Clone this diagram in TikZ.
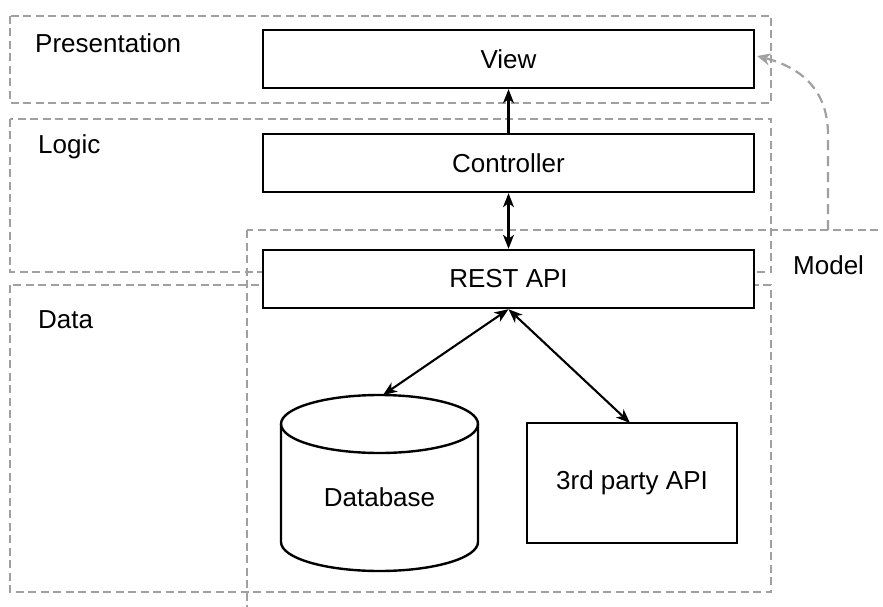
\documentclass[tikz,border=0pt]{standalone}
\usepackage{fontspec}
\setmainfont{Liberation Sans}
\usetikzlibrary{arrows.meta}
\definecolor{dashgray}{RGB}{160,160,160}
\tikzset{
  layer/.style={draw=dashgray, line width=1.5pt, dash pattern=on 8pt off 4.5pt},
  txt/.style={font=\fontsize{26}{30}\selectfont},
  box/.style={draw=black, line width=2.4pt, fill=white, minimum width=491pt, minimum height=58pt, inner sep=0pt, txt},
  lbl/.style={anchor=west, inner sep=0pt, txt},
  tip/.style={},
  conn/.style={line width=2.1pt, -{Stealth[length=14pt,width=11pt,inset=4pt]}},
  biconn/.style={line width=2.1pt, {Stealth[length=14pt,width=11pt,inset=4pt]}-{Stealth[length=14pt,width=11pt,inset=4pt]}},
  dconn/.style={draw=dashgray, line width=2.2pt, dash pattern=on 10pt off 6pt, -{Stealth[length=13pt,width=12pt,inset=4pt,open]}}
}
\begin{document}
\begin{tikzpicture}[x=1pt,y=-1pt]
\useasboundingbox (0,0) rectangle (883,607);
\fill[white] (0,0) rectangle (883,607);
\clip (0,0) rectangle (883,607);
% layers
\draw[layer] (10,16) rectangle (771,103);
\draw[layer] (10,119) rectangle (771,272);
\draw[layer] (10,285) rectangle (771,592);
\draw[layer] (247,230) rectangle (900,630);
\node[lbl] (pres) at (35,43) {Presentation};
\node[lbl] (logic) at (38,147) {Logic};
\node[lbl] (data) at (38,320) {Data};
\node[lbl] (model) at (793,265) {Model};
% nodes
\node[box] (view) at (508.5,59) {View};
\node[box] (ctrl) at (508.5,163) {Controller};
\node[box] (rest) at (508.5,279) {REST API};
\node[draw=black, line width=2.4pt, minimum width=210pt, minimum height=120pt, inner sep=0pt, txt] (third) at (632,483) {3rd party API};
% database cylinder
\draw[line width=2.4pt, fill=white] (281,424) -- (281,542) arc[start angle=180, end angle=360, x radius=98.5, y radius=-29] -- (478,424);
\draw[line width=2.4pt] (379.5,424) ellipse [x radius=98.5, y radius=29];
\node[inner sep=0pt, txt] (db) at (379.5,497) {Database};
\coordinate (dbtop) at (383,395);
\coordinate (thirdtop) at (630,423);
\coordinate (modeltop) at (828,230);
% connectors
\draw[conn] (ctrl.north) -- (view.south);
\draw[biconn] (ctrl.south) -- (rest.north);
\draw[biconn] (rest.south) -- (dbtop);
\draw[biconn] (rest.south) -- (thirdtop);
\draw[dconn] (modeltop) -- (828,135) .. controls (828,85) and (795,66) .. ([xshift=2pt,yshift=3pt]view.east);
\end{tikzpicture}
\end{document}
